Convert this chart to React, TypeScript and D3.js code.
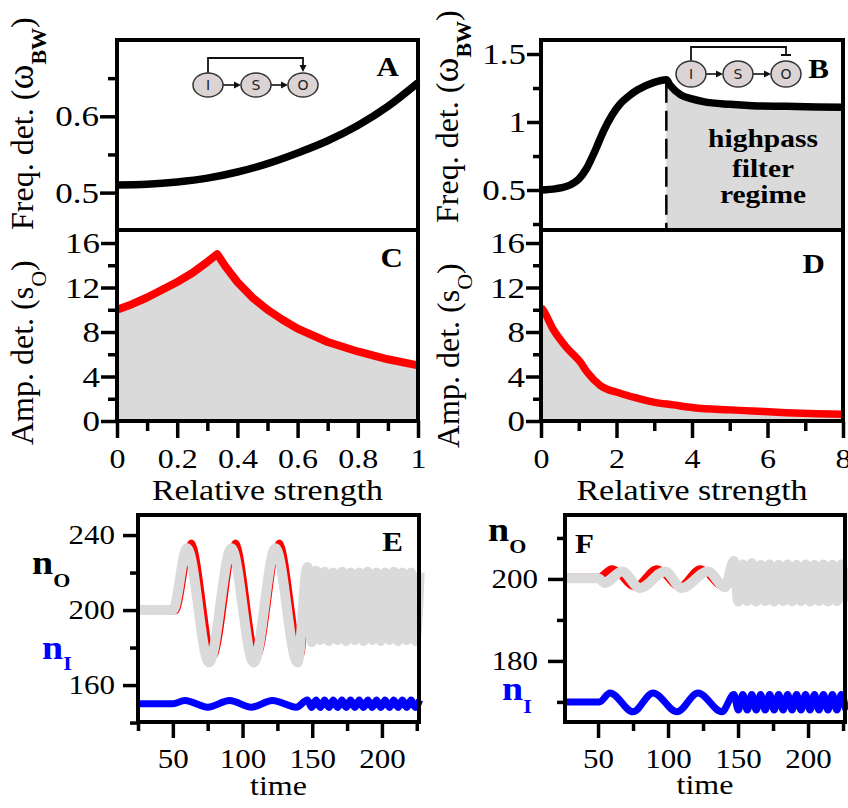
import * as d3 from "d3";
import React, { useEffect, useRef } from "react";

// ---- A: feedforward loop, detected frequency vs relative strength
const strengthA = [0, 0.1, 0.2, 0.3, 0.4, 0.5, 0.6, 0.7, 0.8, 0.9, 1];
const freqA = [0.51, 0.511, 0.514, 0.519, 0.527, 0.538, 0.552, 0.568, 0.588, 0.613, 0.644];

// ---- B: feedback loop, detected frequency (highpass regime right of the dashed line)
const strengthB = [0, 0.4, 0.77, 1.0, 1.21, 1.45, 1.65, 1.88, 2.1, 2.3, 2.55, 2.98, 3.32, 3.42, 3.7, 4.0, 4.3, 5.0, 5.6, 6.5, 7.3, 8.0];
const freqB = [0.5, 0.51, 0.537, 0.58, 0.66, 0.8, 0.93, 1.05, 1.135, 1.185, 1.235, 1.29, 1.31, 1.27, 1.2, 1.17, 1.15, 1.13, 1.12, 1.115, 1.11, 1.108];
const highpassFrom = 3.32;

// ---- C / D: detected amplitude
const strengthC = [0, 0.05, 0.1, 0.15, 0.2, 0.25, 0.3, 0.333, 0.36, 0.4, 0.45, 0.5, 0.55, 0.6, 0.7, 0.8, 0.9, 1];
const ampC = [10, 10.5, 11.1, 11.8, 12.5, 13.3, 14.3, 15, 13.9, 12.5, 11.1, 10, 9.1, 8.3, 7.1, 6.25, 5.55, 5];
const strengthD = [0, 0.05, 0.33, 0.68, 1.04, 1.22, 1.57, 2.1, 2.5, 2.98, 3.5, 4.04, 5, 5.6, 6.5, 7.3, 8];
const ampD = [10.2, 10, 8.2, 6.6, 5.3, 4.4, 3.2, 2.5, 2.1, 1.7, 1.45, 1.2, 1.0, 0.9, 0.75, 0.65, 0.6];

// ---- ticks
const ticksA = [0.5, 0.6];
const minorA = [0.55, 0.65];
const ticksB = [0.5, 1, 1.5];
const minorB = [0.25, 0.75, 1.25];
const ticksAmp = [0, 4, 8, 12, 16];
const minorAmp = [2, 6, 10, 14];
const ticksStrC = [0, 0.2, 0.4, 0.6, 0.8, 1];
const minorStrC = [0.1, 0.3, 0.5, 0.7, 0.9];
const ticksStrD = [0, 2, 4, 6, 8];
const minorStrD = [1, 3, 5, 7];
const ticksTime = [50, 100, 150, 200];
const minorTimeE = [25, 75, 125, 175, 225];
const minorTimeF = [75, 125, 175, 225];
const ticksE = [160, 200, 240];
const minorE = [140, 180, 220];
const ticksF = [180, 200];
const minorF = [170, 190, 210];

// ---- E: time courses, feedforward. slow input first, fast input after t~145
const grayOutE = [[25, 200], [50, 200], [60.2, 233], [76, 172], [92, 233], [108, 172], [123.6, 233], [139.5, 172]];
const redOutE = [[25, 199.4], [52, 199.4], [63.3, 236], [79, 175], [95, 236], [110.5, 175], [126.4, 236], [142, 176]];
const blueInE = [[25, 150], [50, 150], [58.6, 151.8], [75, 148.2], [90.7, 151.8], [106.4, 148.2], [121.4, 151.8], [138.6, 148.2]];
const fastTimeE = [146.5, 149.6, 152.7, 155.8, 158.9, 162.0, 165.1, 168.2, 171.3, 174.4, 177.5, 180.6, 183.7, 186.8, 189.9, 193.0, 196.1, 199.2, 202.3, 205.4, 208.5, 211.6, 214.7, 217.8, 220.9, 224.0, 227.1];
const grayFastE = [223, 183, 221, 184, 220.5, 183.5, 220, 184, 220.5, 183.5, 220, 184, 220, 183.5, 220.5, 184, 220, 183.5, 220, 184, 220.5, 183.5, 220, 184, 220, 183.5, 220];
const redFastE = [207, 195, 206, 196, 206, 196, 206, 196, 206, 196, 206, 196, 206, 196, 206, 196, 206, 196, 206, 196, 206, 196, 206, 196, 206, 196, 206];
const blueFastE = [152, 148, 152, 148, 152, 148, 152, 148, 152, 148, 152, 148, 152, 148, 152, 148, 152, 148, 152, 148, 152, 148, 152, 148, 152, 148, 152];

// ---- F: time courses, feedback
const grayOutF = [[26.4, 200.2], [50, 200.2], [55, 199], [67, 201.8], [80, 197.8], [97.8, 201.8], [109.8, 197.8], [128.5, 201.8], [140.7, 198]];
const redOutF = [[26.4, 200.4], [50, 200.4], [60, 202.5], [76, 198.1], [92, 202.5], [108, 198.1], [123, 202.5], [139, 198.2]];
const blueInF = [[26.4, 170], [51, 170], [58.5, 172.2], [75, 167.6], [89.3, 172.2], [106.4, 167.6], [121.4, 172.2], [138.5, 167.6]];
const fastTimeF = [147, 150.2, 153.4, 156.6, 159.8, 163, 166.2, 169.4, 172.6, 175.8, 179, 182.2, 185.4, 188.6, 191.8, 195, 198.2, 201.4, 204.6, 207.8, 211, 214.2, 217.4, 220.6, 223.8, 227];
const grayFastF = [204.4, 194.5, 203.5, 194.6, 203.8, 194.5, 203.4, 194.6, 203.5, 194.5, 203.4, 194.6, 203.5, 194.5, 203.4, 194.6, 203.5, 194.5, 203.4, 194.6, 203.5, 194.5, 203.4, 194.6, 203.5, 194.5];
const redFastF = [202.5, 197.8, 202.5, 197.8, 202.5, 197.8, 202.5, 197.8, 202.5, 197.8, 202.5, 197.8, 202.5, 197.8, 202.5, 197.8, 202.5, 197.8, 202.5, 197.8, 202.5, 197.8, 202.5, 197.8, 202.5, 197.8];
const blueFastF = [171.8, 168, 171.8, 168, 171.8, 168, 171.8, 168, 171.8, 168, 171.8, 168, 171.8, 168, 171.8, 168, 171.8, 168, 171.8, 168, 171.8, 168, 171.8, 168, 171.8, 168];

const SERIF = "'Liberation Serif', 'Times New Roman', Times, serif";
const SQ = 0.86; // lettering in the figure is slightly flattened
const GRAY = "#dadada";

// slow part + fast part glued together
const series = (slow, times, vals) => slow.concat(times.map((t, i) => [t, vals[i]]));

function txt(g, x, y, s, size, o: any = {}) {
  return g
    .append("text")
    .attr("transform", `translate(${x},${y}) scale(1,${SQ})`)
    .attr("font-family", SERIF)
    .attr("font-size", size)
    .attr("font-weight", o.bold ? "bold" : "normal")
    .attr("text-anchor", o.anchor || "start")
    .attr("fill", o.fill || "#000")
    .text(s);
}

function frame(g, x, y) {
  const [xa, xb] = x.range();
  const [yb, ya] = y.range();
  g.append("rect")
    .attr("x", xa)
    .attr("y", ya)
    .attr("width", xb - xa)
    .attr("height", yb - ya)
    .attr("fill", "none")
    .attr("stroke", "#000")
    .attr("stroke-width", 4);
}

function leftAxis(g, y, x0, major, minor, o) {
  const a = g
    .append("g")
    .attr("transform", `translate(${x0},0)`)
    .call(d3.axisLeft(y).tickValues(major).tickSize(o.size).tickPadding(o.pad).tickFormat((d) => String(d)));
  a.attr("font-family", SERIF).attr("font-size", o.font);
  a.select(".domain").remove();
  a.selectAll(".tick line").attr("stroke-width", 3.5);
  a.selectAll(".tick text").attr("transform", `scale(1,${SQ})`);
  const m = g
    .append("g")
    .attr("transform", `translate(${x0},0)`)
    .call(d3.axisLeft(y).tickValues(minor).tickSize(o.minor).tickFormat(() => ""));
  m.select(".domain").remove();
  m.selectAll(".tick line").attr("stroke-width", 3.5);
}

function bottomAxis(g, x, y0, major, minor, o) {
  const a = g
    .append("g")
    .attr("transform", `translate(0,${y0})`)
    .call(d3.axisBottom(x).tickValues(major).tickSize(o.size).tickFormat((d) => String(d)));
  a.attr("font-family", SERIF).attr("font-size", o.font);
  a.select(".domain").remove();
  a.selectAll(".tick line").attr("stroke-width", 3.5);
  a.selectAll(".tick text")
    .attr("y", o.off / SQ)
    .attr("dy", null)
    .attr("transform", `scale(1,${SQ})`);
  const m = g
    .append("g")
    .attr("transform", `translate(0,${y0})`)
    .call(d3.axisBottom(x).tickValues(minor).tickSize(o.minor).tickFormat(() => ""));
  m.select(".domain").remove();
  m.selectAll(".tick line").attr("stroke-width", 3.5);
}

// little I -> S -> O network sketch
function motif(g, cxs, cy, rx, ry, over, kind) {
  const m = g.append("g");
  for (let i = 0; i < 2; i++) {
    const xs = cxs[i] + rx;
    const xe = cxs[i + 1] - rx;
    m.append("line").attr("x1", xs).attr("x2", xe - 5).attr("y1", cy).attr("y2", cy).attr("stroke", "#111").attr("stroke-width", 1.6);
    m.append("path").attr("d", `M${xe},${cy}L${xe - 7},${cy - 3.5}L${xe - 7},${cy + 3.5}Z`).attr("fill", "#111");
  }
  const top = cy - ry;
  m.append("path")
    .attr("d", `M${cxs[0]},${top}V${over}H${cxs[2]}V${top - 6}`)
    .attr("fill", "none").attr("stroke", "#111").attr("stroke-width", 1.8);
  if (kind === "ff") {
    m.append("path").attr("d", `M${cxs[2]},${top - 1}L${cxs[2] - 3.5},${top - 8}L${cxs[2] + 3.5},${top - 8}Z`).attr("fill", "#111");
  } else {
    m.append("line").attr("x1", cxs[2] - 5).attr("x2", cxs[2] + 5).attr("y1", top - 6).attr("y2", top - 6).attr("stroke", "#111").attr("stroke-width", 2);
  }
  ["I", "S", "O"].forEach((n, i) => {
    m.append("ellipse").attr("cx", cxs[i]).attr("cy", cy).attr("rx", rx).attr("ry", ry)
      .attr("fill", "#dcd4d4").attr("stroke", "#333").attr("stroke-width", 1.5);
    m.append("text").attr("x", cxs[i]).attr("y", cy + 5).attr("text-anchor", "middle")
      .attr("font-family", "'DejaVu Sans', sans-serif").attr("font-size", 14).attr("fill", "#222").text(n);
  });
}

function rotTitle(g, x, y, main, sym, sub, subBold) {
  const t = g.append("text")
    .attr("transform", `translate(${x},${y}) rotate(-90)`)
    .attr("font-family", SERIF)
    .attr("font-size", 32);
  t.append("tspan").text(main);
  if (sym) t.append("tspan").attr("font-size", 38).text(sym);
  t.append("tspan").attr("dy", 13).attr("font-size", 22).attr("font-weight", subBold ? "bold" : "normal").text(sub);
  t.append("tspan").attr("dy", -13).text(")");
}

function nLabel(g, x, y, sub, dy, fill) {
  const t = txt(g, x, y, "n", 38, { bold: true, fill });
  t.append("tspan").attr("dy", dy / SQ).attr("font-size", 22).text(sub);
}

export default function App() {
  const ref = useRef<SVGSVGElement>(null);

  useEffect(() => {
    const svg = d3.select(ref.current);
    svg.selectAll("*").remove();
    const mono = d3.curveMonotoneX;
    const mkLine = (x, y, curve) => d3.line().x((d) => x(d[0])).y((d) => y(d[1])).curve(curve);

    // ---------------- A
    const xA = d3.scaleLinear([0, 1], [117, 418]);
    const yA = d3.scaleLinear([0.451, 0.7], [230, 40]);
    const gA = svg.append("g");
    gA.append("path").attr("d", mkLine(xA, yA, mono)(d3.zip(strengthA, freqA)))
      .attr("fill", "none").attr("stroke", "#000").attr("stroke-width", 7.5);
    frame(gA, xA, yA);
    leftAxis(gA, yA, 117, ticksA, minorA, { size: 17, pad: 1, minor: 9, font: 35 });
    motif(gA, [208, 256, 303], 85, 15, 12, 58, "ff");
    txt(gA, 399, 76, "A", 31, { bold: true, anchor: "end" });
    rotTitle(gA, 33, 230, "Freq. det. (", "ω", "BW", true);

    // ---------------- B
    const xB = d3.scaleLinear([0, 8], [541, 843]);
    const yB = d3.scaleLinear([0.206, 1.603], [230, 40]);
    const gB = svg.append("g");
    const dataB = d3.zip(strengthB, freqB);
    const hp = dataB.filter((d) => d[0] >= highpassFrom);
    gB.append("path")
      .attr("d", d3.area().x((d) => xB(d[0])).y0(yB(0.206)).y1((d) => yB(d[1])).curve(mono)(hp))
      .attr("fill", GRAY);
    gB.append("line")
      .attr("x1", xB(highpassFrom)).attr("x2", xB(highpassFrom))
      .attr("y1", yB(freqB[strengthB.indexOf(highpassFrom)]) + 3).attr("y2", yB(0.206))
      .attr("stroke", "#000").attr("stroke-width", 2.5).attr("stroke-dasharray", "20,8");
    gB.append("path").attr("d", mkLine(xB, yB, mono)(dataB))
      .attr("fill", "none").attr("stroke", "#000").attr("stroke-width", 7.5).attr("stroke-linejoin", "round");
    ["highpass", "filter", "regime"].forEach((w, i) =>
      txt(gB, 763, [147, 177, 203][i], w, 29.5, { bold: true, anchor: "middle" })
    );
    frame(gB, xB, yB);
    leftAxis(gB, yB, 541, ticksB, minorB, { size: 14, pad: 1, minor: 8, font: 35 });
    motif(gB, [691, 738, 786], 74, 15, 13, 47, "fb");
    txt(gB, 829, 78, "B", 31, { bold: true, anchor: "end" });
    rotTitle(gB, 458, 223, "Freq. det. (", "ω", "BW", true);

    // ---------------- C
    const xC = d3.scaleLinear([0, 1], [117, 418]);
    const yC = d3.scaleLinear([0, 17.17], [421, 230]);
    const gC = svg.append("g");
    const dataC = d3.zip(strengthC, ampC);
    gC.append("path")
      .attr("d", d3.area().x((d) => xC(d[0])).y0(yC(0)).y1((d) => yC(d[1]))(dataC))
      .attr("fill", GRAY);
    gC.append("path").attr("d", mkLine(xC, yC, d3.curveLinear)(dataC))
      .attr("fill", "none").attr("stroke", "#ff0000").attr("stroke-width", 8).attr("stroke-linejoin", "round");
    frame(gC, xC, yC);
    leftAxis(gC, yC, 117, ticksAmp, minorAmp, { size: 16, pad: 1, minor: 9, font: 35 });
    bottomAxis(gC, xC, 421, ticksStrC, minorStrC, { size: 17, minor: 10, off: 47, font: 32 });
    txt(gC, 403, 267, "C", 31, { bold: true, anchor: "end" });
    txt(gC, 267.5, 500, "Relative strength", 34, { anchor: "middle" });
    rotTitle(gC, 33, 445, "Amp. det. (s", null, "O", false);

    // ---------------- D
    const xD = d3.scaleLinear([0, 8], [541, 843]);
    const yD = d3.scaleLinear([0, 17.17], [421, 230]);
    const gD = svg.append("g");
    const dataD = d3.zip(strengthD, ampD);
    gD.append("path")
      .attr("d", d3.area().x((d) => xD(d[0])).y0(yD(0)).y1((d) => yD(d[1])).curve(mono)(dataD))
      .attr("fill", GRAY);
    gD.append("path").attr("d", mkLine(xD, yD, mono)(dataD))
      .attr("fill", "none").attr("stroke", "#ff0000").attr("stroke-width", 7.5);
    frame(gD, xD, yD);
    leftAxis(gD, yD, 541, ticksAmp, minorAmp, { size: 15, pad: 1, minor: 8, font: 35 });
    bottomAxis(gD, xD, 421, ticksStrD, minorStrD, { size: 17, minor: 10, off: 47, font: 32 });
    txt(gD, 825, 273, "D", 31, { bold: true, anchor: "end" });
    txt(gD, 692, 500, "Relative strength", 34, { anchor: "middle" });
    rotTitle(gD, 459, 448, "Amp. det. (s", null, "O", false);

    // ---------------- E
    const xE = d3.scaleLinear([25, 226.6], [138, 419]);
    const yE = d3.scaleLinear([140.3, 250.7], [722, 515]);
    const gE = svg.append("g");
    const lE = mkLine(xE, yE, mono);
    gE.append("path").attr("d", lE(series(redOutE, fastTimeE, redFastE)))
      .attr("fill", "none").attr("stroke", "#ff0000").attr("stroke-width", 6);
    gE.append("path").attr("d", lE(series(grayOutE, fastTimeE, grayFastE)))
      .attr("fill", "none").attr("stroke", GRAY).attr("stroke-width", 10);
    gE.append("path").attr("d", lE(series(blueInE, fastTimeE, blueFastE)))
      .attr("fill", "none").attr("stroke", "#0000ff").attr("stroke-width", 7);
    frame(gE, xE, yE);
    leftAxis(gE, yE, 138, ticksE, minorE, { size: 15, pad: 8, minor: 8, font: 31 });
    bottomAxis(gE, xE, 722, ticksTime, minorTimeE, { size: 16, minor: 9, off: 46, font: 31 });
    txt(gE, 403, 551, "E", 31, { bold: true, anchor: "end" });
    txt(gE, 278.5, 795, "time", 32, { anchor: "middle" });
    nLabel(gE, 32, 574, "O", 13, "#000");
    nLabel(gE, 42, 659, "I", 11, "#0000ff");

    // ---------------- F
    const xF = d3.scaleLinear([26.4, 226.4], [565, 845]);
    const yF = d3.scaleLinear([165.1, 215.6], [722, 515]);
    const gF = svg.append("g");
    const lF = mkLine(xF, yF, mono);
    gF.append("path").attr("d", lF(series(redOutF, fastTimeF, redFastF)))
      .attr("fill", "none").attr("stroke", "#ff0000").attr("stroke-width", 7);
    gF.append("path").attr("d", lF(series(grayOutF, fastTimeF, grayFastF)))
      .attr("fill", "none").attr("stroke", GRAY).attr("stroke-width", 10);
    gF.append("path").attr("d", lF(series(blueInF, fastTimeF, blueFastF)))
      .attr("fill", "none").attr("stroke", "#0000ff").attr("stroke-width", 7);
    frame(gF, xF, yF);
    leftAxis(gF, yF, 565, ticksF, minorF, { size: 17, pad: 10, minor: 8, font: 31 });
    bottomAxis(gF, xF, 722, ticksTime, minorTimeF, { size: 16, minor: 9, off: 46, font: 31 });
    txt(gF, 575, 553, "F", 31, { bold: true });
    txt(gF, 705, 794, "time", 32, { anchor: "middle" });
    nLabel(gF, 488, 541, "O", 12, "#000");
    nLabel(gF, 502, 700, "I", 13, "#0000ff");
  }, []);

  return (
    <svg
      ref={ref}
      width={848}
      height={808}
      style={{ position: "absolute", left: 0, top: 0, background: "#fff" }}
    />
  );
}
